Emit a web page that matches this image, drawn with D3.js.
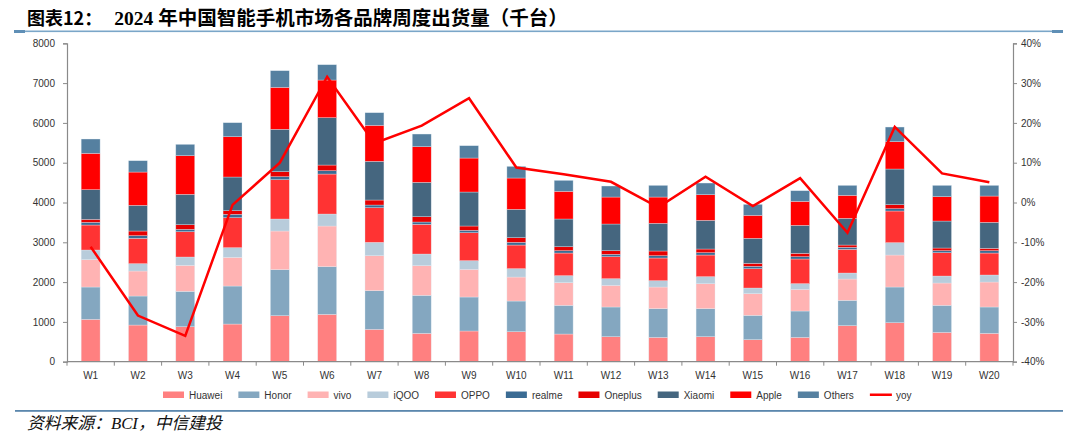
<!DOCTYPE html>
<html><head><meta charset="utf-8">
<script src="https://cdn.jsdelivr.net/npm/d3@7/dist/d3.min.js"></script>
<style>html,body{margin:0;padding:0;background:#fff;}svg{display:block;}</style>
</head><body>
<svg id="c" width="1080" height="444"></svg>
<script>
const weeks = ["W1","W2","W3","W4","W5","W6","W7","W8","W9","W10","W11","W12","W13","W14","W15","W16","W17","W18","W19","W20"];
const brands = ["Huawei","Honor","vivo","iQOO","OPPO","realme","Oneplus","Xiaomi","Apple","Others"];
const huawei  = [1064,921,879,946,1156,1189,812,712,771,754,695,628,611,628,553,611,905,980,737,712];
const honor   = [812,729,888,955,1156,1198,972,955,854,770,720,746,721,704,611,662,636,896,678,662];
const vivo    = [687,628,653,720,971,1022,879,745,695,603,570,544,544,628,545,544,536,804,562,628];
const iqoo    = [243,184,210,243,302,301,335,293,218,210,176,167,159,176,142,143,151,310,175,176];
const oppo    = [628,637,636,754,988,1005,871,746,703,594,569,553,570,544,486,620,594,796,587,552];
const realme  = [66,67,59,84,75,84,67,58,59,67,59,59,58,59,58,58,51,58,50,59];
const oneplus = [76,117,117,92,126,142,126,134,109,118,100,92,118,92,76,84,58,101,67,59];
const xiaomi  = [746,645,762,846,1064,1190,972,863,854,711,696,670,695,720,628,703,670,896,678,653];
const apple   = [913,837,972,1013,1055,946,904,896,854,788,695,678,661,645,578,603,578,687,612,661];
const others  = [360,285,285,352,419,385,318,318,310,293,276,277,293,293,276,268,251,368,284,268];
const yoy     = [-11.1,-28.4,-33.5,-0.6,10.0,31.6,14.9,19.3,26.2,8.8,7.1,5.2,-1.2,6.5,-0.9,6.1,-7.6,19.0,7.3,5.1];
const leftTicks  = [0,1000,2000,3000,4000,5000,6000,7000,8000];
const rightTicks = [-40,-30,-20,-10,0,10,20,30,40];

const seriesVals = [huawei,honor,vivo,iqoo,oppo,realme,oneplus,xiaomi,apple,others];
const colors = ["#ff8080","#84a7c0","#ffb3b3","#b8ccdb","#ff3333","#3a6b93","#e60000","#45667f","#ff0000","#5580a0"];

const rows = weeks.map((w,i)=>{const r={week:w}; brands.forEach((b,j)=>r[b]=seriesVals[j][i]); return r;});
const stack = d3.stack().keys(brands)(rows);

const svg = d3.select("#c");
const L=67,R=1013,T=43.3,B=361.7;
const x = d3.scaleBand().domain(weeks).range([L,R]).paddingInner(0.6).paddingOuter(0.3);
const xb = d3.scaleBand().domain(weeks).range([L,R]);
const y = d3.scaleLinear().domain([0,8000]).range([B,T]);
const y2 = d3.scaleLinear().domain([-40,40]).range([B,T]);

// title
const title = svg.append("text").attr("x",27).attr("y",25).attr("font-weight","bold").attr("fill","#000");
title.append("tspan").attr("font-size",18).attr("font-family","'Noto Sans CJK SC',sans-serif").text("图表12：");
title.append("tspan").attr("dx",12).attr("font-size",19.5).attr("font-family","'Liberation Serif','Noto Sans CJK SC',serif").text("2024 年中国智能手机市场各品牌周度出货量（千台）");

// rules
svg.append("rect").attr("x",14).attr("y",30.5).attr("width",1049).attr("height",1.6).attr("fill","#7aa6c8");
svg.append("rect").attr("x",14).attr("y",30).attr("width",11).attr("height",3).attr("fill","#5f8fb6");
svg.append("rect").attr("x",1052).attr("y",30).attr("width",11).attr("height",3).attr("fill","#5f8fb6");
svg.append("rect").attr("x",15).attr("y",410).attr("width",1048).attr("height",1.8).attr("fill","#5b87ad");

// bars
svg.append("g").selectAll("g").data(stack).join("g").attr("fill",(d,i)=>colors[i])
  .selectAll("rect").data(d=>d).join("rect")
  .attr("x",d=>x(d.data.week)).attr("width",x.bandwidth())
  .attr("y",d=>y(d[1])).attr("height",d=>y(d[0])-y(d[1]))
  .attr("stroke","rgba(230,238,245,0.55)").attr("stroke-width",0.6);

// axes
const axCol="#8a8a8a";
const ga = svg.append("g").attr("transform",`translate(${L},0)`).call(d3.axisLeft(y).tickValues(leftTicks).tickSize(4).tickPadding(8).tickFormat(d3.format("d")));
const gr = svg.append("g").attr("transform",`translate(${R},0)`).call(d3.axisRight(y2).tickValues(rightTicks).tickSize(4).tickPadding(4).tickFormat(d=>d+"%"));
const gx = svg.append("g").attr("transform",`translate(0,${B})`).call(d3.axisBottom(xb).tickSize(0).tickPadding(10));
svg.append("g").selectAll("line").data(weeks.concat(["end"])).join("line")
  .attr("x1",(d,i)=>L+i*xb.step()).attr("x2",(d,i)=>L+i*xb.step())
  .attr("y1",B).attr("y2",B+4).attr("stroke",axCol).attr("stroke-width",1);
[ga,gr,gx].forEach(g=>{
  g.selectAll(".domain").attr("stroke",axCol).attr("stroke-width",1.2);
  g.selectAll(".tick line").attr("stroke",axCol);
  g.selectAll("text").attr("font-family","'Liberation Sans',Arial,sans-serif").attr("font-size",10).attr("fill","#333");
});
gx.select(".domain").attr("d",`M${L},0H${R}`);

// yoy line
svg.append("path").datum(yoy)
  .attr("d",d3.line().x((d,i)=>xb(weeks[i])+xb.bandwidth()/2).y(d=>y2(d)))
  .attr("fill","none").attr("stroke","#ff0000").attr("stroke-width",2.5).attr("stroke-linejoin","miter");

// legend
const lg = svg.append("g").attr("font-family","'Liberation Sans',Arial,sans-serif").attr("font-size",10).attr("fill","#333");
let lx = 163;
const legendItems = brands.map((b,i)=>({name:b,color:colors[i],line:false})).concat([{name:"yoy",color:"#ff0000",line:true}]);
legendItems.forEach(it=>{
  if(it.line) lg.append("rect").attr("x",lx).attr("y",393.5).attr("width",22).attr("height",2.5).attr("fill",it.color);
  else lg.append("rect").attr("x",lx).attr("y",391.5).attr("width",21).attr("height",6.5).attr("fill",it.color);
  const t = lg.append("text").attr("x",lx+26).attr("y",398.5).text(it.name);
  lx += 26 + t.node().getComputedTextLength() + 16;
});

// source
svg.append("text").attr("x",27).attr("y",429).attr("font-size",16.8).attr("font-style","italic")
  .attr("font-family","'Liberation Serif','Noto Sans CJK SC',serif").attr("fill","#111").text("资料来源：BCI，中信建投");
</script>
</body></html>
